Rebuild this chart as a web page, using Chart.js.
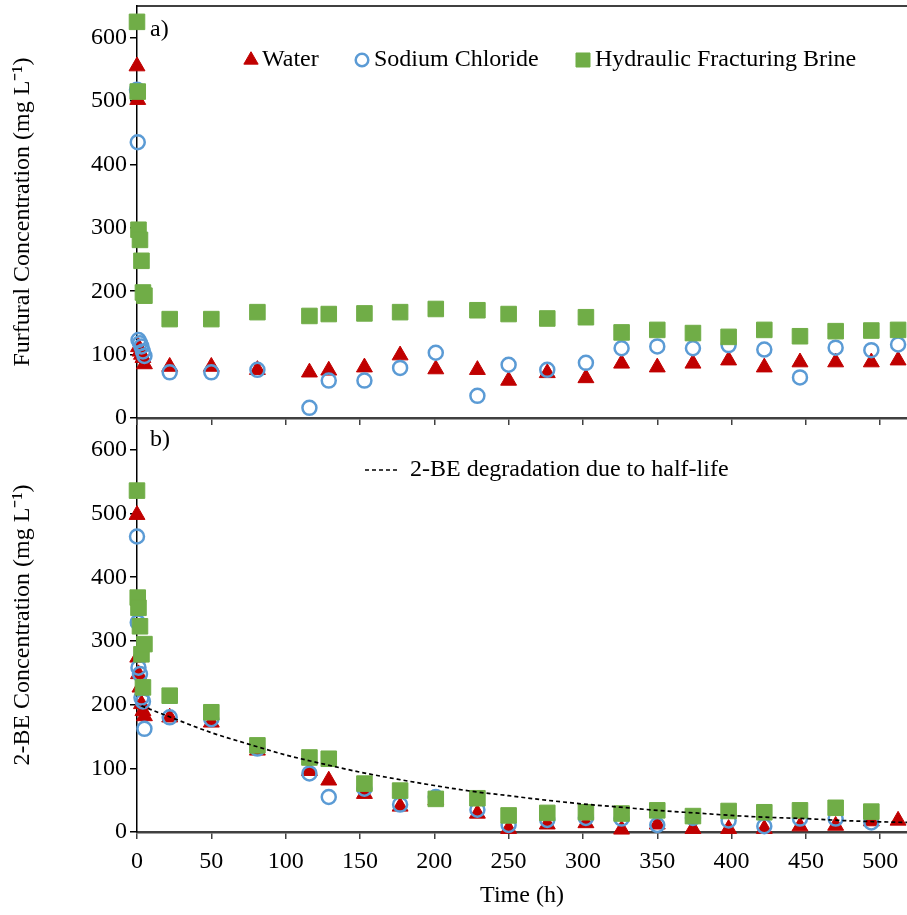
<!DOCTYPE html>
<html>
<head>
<meta charset="utf-8">
<script src="https://cdn.jsdelivr.net/npm/chart.js@4.4.0/dist/chart.umd.min.js"></script>
<style>
    html, body { margin:0; padding:0; background:#fff; }
    #wrap { position:relative; width:907px; height:915px; overflow:hidden; }
    #topBox { position:absolute; left:0; top:0; width:907px; height:430px; }
    #botBox { position:absolute; left:0; top:418px; width:907px; height:497px; }
</style>
</head>
<body>
<div id="wrap">
    <div id="botBox"><canvas id="beChart"></canvas></div>
    <div id="topBox"><canvas id="furChart"></canvas></div>
</div>
<script>
// sampling times (h)
var times = [0, 0.5, 1, 2, 3, 4, 5, 22, 50, 81, 116, 129, 153, 177, 201, 229, 250, 276, 302, 326, 350, 374, 398, 422, 446, 470, 494, 512];

// a) furfural (mg/L)
var furWater = [555, 502, 112, 105, 100, 95, 85, 81, 81, 76, 72, 75, 80, 99, 77, 76, 59, 71, 63, 86, 80, 86, 91, 80, 88, 88, 88, 91];
var furNaCl  = [518, 435, 123, 118, 113, 105, 98, 72, 72, 76, 16, 59, 59, 79, 103, 35, 84, 76, 87, 110, 113, 110, 115, 108, 64, 111, 107, 116];
var furBrine = [625, 515, 297, 281, 248, 198, 193, 156, 156, 167, 161, 164, 165, 167, 172, 170, 164, 157, 159, 135, 139, 134, 128, 139, 129, 137, 138, 139];

// b) 2-BE (mg/L)
var beWater = [498, 274, 248, 227, 201, 190, 182, 180, 172, 128, 96, 81, 60, 40, 50, 29, 5, 12, 14, 4, 12, 5, 5, 5, 9, 10, 17, 18];
var beNaCl  = [464, 329, 258, 248, 211, 205, 162, 180, 177, 131, 92, 55, 68, 43, 55, 35, 11, 19, 22, 21, 11, 22, 18, 9, 21, 21, 15, null];
var beBrine = [536, 368, 352, 323, 279, 227, 295, 214, 188, 136, 117, 115, 76, 65, 52, 53, 26, 30, 31, 29, 34, 25, 33, 31, 34, 38, 32, null];

// dashed half-life curve
var halfTimes = [3, 25, 50, 75, 100, 125, 150, 175, 200, 225, 250, 275, 300, 325, 350, 375, 400, 425, 450, 475, 500, 518];
var halfVals  = [198, 178, 156, 138, 121, 107, 94, 83, 73, 64, 57, 50, 44, 39, 34, 30, 26, 23, 21, 18, 16, 15];

var yTicks = [0, 100, 200, 300, 400, 500, 600];
var xTicks = [0, 50, 100, 150, 200, 250, 300, 350, 400, 450, 500];

var RED = '#C00000', BLUE = '#5B9BD5', GREEN = '#70AD47';
var FONT = 'Liberation Serif';

Chart.defaults.font.family = FONT;
Chart.defaults.color = '#000';

function pts(xs, ys) {
    var out = [];
    for (var i = 0; i < xs.length; i++) {
        if (ys[i] !== null) out.push({x: xs[i], y: ys[i]});
    }
    return out;
}

function waterSet(d) {
    return { label: 'Water', data: d, pointStyle: 'triangle', pointRadius: 9.2, pointBackgroundColor: RED,
             pointBorderColor: RED, pointBorderWidth: 1, showLine: false, clip: false, order: 3 };
}
function naclSet(d) {
    return { label: 'Sodium Chloride', data: d, pointStyle: 'circle', pointRadius: 7, pointBackgroundColor: 'rgba(0,0,0,0)',
             pointBorderColor: BLUE, pointBorderWidth: 2.5, showLine: false, clip: false, order: 2 };
}
function brineSet(d) {
    return { label: 'Hydraulic Fracturing Brine', data: d, pointStyle: 'rect', pointRadius: 11, pointBackgroundColor: GREEN,
             pointBorderColor: GREEN, pointBorderWidth: 1, showLine: false, clip: false, order: 1 };
}

function marker(ctx, style, x, y, r, fill, stroke, lw) {
    ctx.save();
    ctx.beginPath();
    if (style === 'triangle') {
        ctx.moveTo(x, y - r);
        ctx.lineTo(x + r * 0.866, y + r / 2);
        ctx.lineTo(x - r * 0.866, y + r / 2);
        ctx.closePath();
    } else if (style === 'rect') {
        var s = r * Math.SQRT1_2;
        ctx.rect(x - s, y - s, 2 * s, 2 * s);
    } else {
        ctx.arc(x, y, r, 0, Math.PI * 2);
    }
    ctx.fillStyle = fill;
    ctx.fill();
    ctx.lineWidth = lw;
    ctx.strokeStyle = stroke;
    ctx.stroke();
    ctx.restore();
}

// panel labels, legends and top frame line
var decorPlugin = {
    id: 'decor',
    afterDraw: function(chart, args, opts) {
        var ctx = chart.ctx, a = chart.chartArea;
        ctx.save();
        if (opts.frameTop) {
            ctx.strokeStyle = '#000';
            ctx.lineWidth = 1.5;
            ctx.beginPath();
            ctx.moveTo(a.left, a.top);
            ctx.lineTo(chart.width, a.top);
            ctx.stroke();
        }
        ctx.font = '24px ' + FONT;
        ctx.fillStyle = '#000';
        ctx.textBaseline = 'middle';
        ctx.fillText(opts.panel, a.left + 13, a.top + opts.panelY);
        (opts.items || []).forEach(function(it) {
            var ds = chart.data.datasets[it.ds];
            if (it.dash) {
                ctx.save();
                ctx.strokeStyle = '#000';
                ctx.lineWidth = 1.7;
                ctx.setLineDash([4, 3]);
                ctx.beginPath();
                ctx.moveTo(it.x - 37, it.y);
                ctx.lineTo(it.x - 2, it.y);
                ctx.stroke();
                ctx.restore();
            } else {
                marker(ctx, ds.pointStyle, it.x, it.y, ds.pointRadius * 0.9, ds.pointBackgroundColor,
                       ds.pointBorderColor, ds.pointBorderWidth);
            }
            ctx.fillStyle = '#000';
            ctx.fillText(ds.label, it.x + it.gap, it.y);
        });
        ctx.restore();
    }
};

function yScale(title, w) {
    return {
        type: 'linear', min: 0, max: 650,
        afterBuildTicks: function(axis) { axis.ticks = yTicks.map(function(v) { return {value: v}; }); },
        afterFit: function(s) { s.width = w; s.paddingTop = 0; s.paddingBottom = 0; },
        grid: { drawOnChartArea: false, drawTicks: true, tickLength: 7, color: '#000', lineWidth: 1.5 },
        border: { display: true, color: '#000', width: 1.5 },
        ticks: { font: { size: 24 }, color: '#000', padding: 3 },
        title: { display: true, text: title, font: { size: 24, lineHeight: 1.2 }, color: '#000', padding: { top: 8, bottom: 0 } }
    };
}

function xScale(h, labels) {
    return {
        type: 'linear', min: 0, max: 518,
        afterBuildTicks: function(axis) { axis.ticks = xTicks.map(function(v) { return {value: v}; }); },
        afterFit: function(s) { s.height = h; s.paddingLeft = 0; s.paddingRight = 0; },
        grid: { drawOnChartArea: false, drawTicks: true, tickLength: 7, color: '#404040', lineWidth: 1.5 },
        border: { display: true, color: '#404040', width: 2.5 },
        ticks: { display: labels, font: { size: 24 }, color: '#000', padding: 8, maxRotation: 0 },
        title: { display: labels, text: 'Time (h)', font: { size: 24, lineHeight: 1.2 }, color: '#000', padding: { top: 0, bottom: 5 } }
    };
}

var furChart = new Chart(document.getElementById('furChart'), {
    type: 'scatter',
    data: {
        datasets: [
            waterSet(pts(times, furWater)),
            naclSet(pts(times, furNaCl)),
            brineSet(pts(times, furBrine))
        ]
    },
    options: {
        responsive: true, maintainAspectRatio: false, animation: false,
        layout: { autoPadding: false, padding: { top: 6, right: 0, left: 0, bottom: 0 } },
        scales: { x: xScale(12, false), y: yScale('Furfural Concentration (mg L\u207B\u00B9)', 137) },
        plugins: {
            legend: { display: false }, tooltip: { enabled: false },
            decor: {
                frameTop: true, panel: 'a)', panelY: 24,
                items: [ {ds: 0, x: 251, y: 60, gap: 11}, {ds: 1, x: 362, y: 60, gap: 12}, {ds: 2, x: 583, y: 60, gap: 12} ]
            }
        }
    },
    plugins: [decorPlugin]
});

var beChart = new Chart(document.getElementById('beChart'), {
    type: 'scatter',
    data: {
        datasets: [
            waterSet(pts(times, beWater)),
            naclSet(pts(times, beNaCl)),
            brineSet(pts(times, beBrine)),
            { label: '2-BE degradation due to half-life', type: 'line', data: pts(halfTimes, halfVals),
              borderColor: '#000', borderWidth: 1.7, borderDash: [4, 3], pointRadius: 0, fill: false,
              cubicInterpolationMode: 'monotone', clip: false, order: 0 }
        ]
    },
    options: {
        responsive: true, maintainAspectRatio: false, animation: false,
        layout: { autoPadding: false, padding: { top: 0, right: 0, left: 0, bottom: 0 } },
        scales: { x: xScale(83, true), y: yScale('2-BE Concentration (mg L\u207B\u00B9)', 137) },
        plugins: {
            legend: { display: false }, tooltip: { enabled: false },
            decor: {
                frameTop: false, panel: 'b)', panelY: 22,
                items: [ {ds: 3, dash: true, x: 402, y: 52, gap: 8} ]
            }
        }
    },
    plugins: [decorPlugin]
});
</script>
</body>
</html>
